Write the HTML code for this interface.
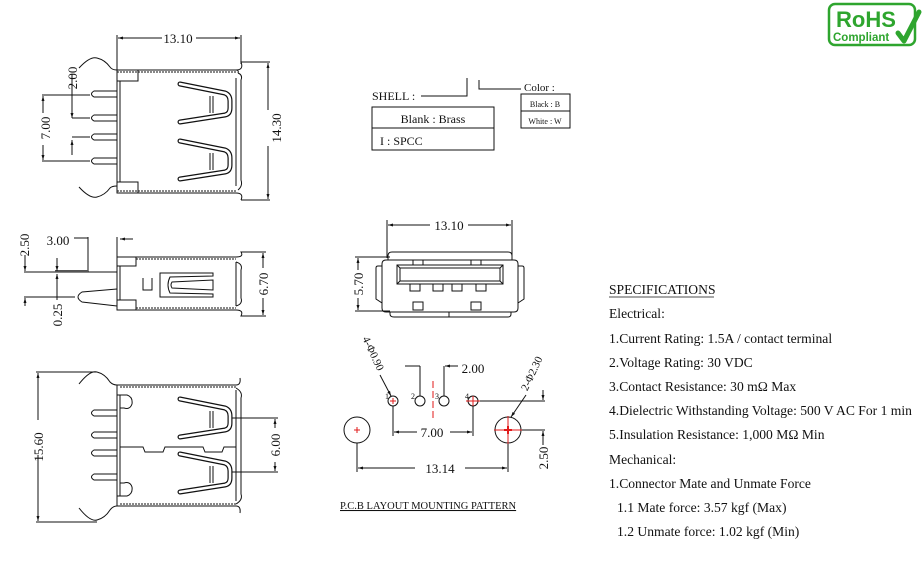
<!DOCTYPE html>
<html><head><meta charset="utf-8"><style>
html,body{margin:0;padding:0;background:#fff;width:923px;height:564px;overflow:hidden}
svg{display:block}
text{font-family:"Liberation Serif",serif;fill:#111}
</style></head><body>
<svg width="923" height="564" viewBox="0 0 923 564" xmlns="http://www.w3.org/2000/svg">
<defs>
<marker id="a" viewBox="0 0 10 10" refX="10" refY="5" markerWidth="7" markerHeight="5" orient="auto-start-reverse"><path d="M0,2 L10,5 L0,8z" fill="#111"/></marker>
<g id="ct">
<path d="M180,84 L225,93 Q230,95 230,101 L230,108 Q230,114 225,115 L180,122" fill="none" stroke="#111" stroke-width="5" stroke-linecap="round" stroke-linejoin="round"/>
<path d="M180,84 L225,93 Q230,95 230,101 L230,108 Q230,114 225,115 L180,122" fill="none" stroke="#fff" stroke-width="2.6" stroke-linecap="round" stroke-linejoin="round"/>
<line x1="210" y1="96" x2="210" y2="113" stroke="#111" stroke-width="1"/><line x1="213" y1="96" x2="213" y2="113" stroke="#111" stroke-width="1"/>
</g>
</defs>
<g stroke="#111" stroke-width="1" fill="none">
<line x1="117" y1="35" x2="117" y2="70"/><line x1="241" y1="35" x2="241" y2="64"/>
<line x1="118" y1="38" x2="162" y2="38" marker-start="url(#a)"/><line x1="196" y1="38" x2="240" y2="38" marker-end="url(#a)"/>
<path d="M79,68 Q90,56 97,58 Q105,60 110,67 Q112,70 117,70 L236,70 Q239,70 238,73"/>
<path d="M79,187 Q90,199 97,197 Q105,195 110,188 Q112,186 117,186"/>
<line x1="117" y1="72" x2="236" y2="72" stroke-dasharray="2,1"/>
<line x1="117" y1="193" x2="236" y2="193"/><line x1="117" y1="191" x2="236" y2="191" stroke-dasharray="2,1"/>
<path d="M236,70 Q244,70 241,62 L270,62"/><line x1="241" y1="200" x2="270" y2="200"/>
<path d="M236,193 Q244,193 241,200"/>
<path d="M238,73 Q243,75 241,80 L241,180 Q243,186 238,190"/>
<line x1="236" y1="78" x2="236" y2="186"/>
<rect x="117" y="70" width="21" height="11"/><rect x="117" y="182" width="21" height="11"/>
<line x1="117" y1="70" x2="117" y2="193"/><line x1="120" y1="81" x2="120" y2="182"/>
<path d="M117,91 L94,91 Q89,94 94,97 L117,97"/>
<path d="M117,115 L94,115 Q89,118 94,121 L117,121"/>
<path d="M117,134 L94,134 Q89,137 94,140 L117,140"/>
<path d="M117,158 L94,158 Q89,161 94,164 L117,164"/>
<line x1="268" y1="63" x2="268" y2="110" marker-start="url(#a)"/><line x1="268" y1="146" x2="268" y2="199" marker-end="url(#a)"/>
<line x1="42" y1="95" x2="90" y2="95"/><line x1="42" y1="161" x2="90" y2="161"/>
<line x1="43" y1="96" x2="43" y2="113" marker-start="url(#a)"/><line x1="43" y1="145" x2="43" y2="160" marker-end="url(#a)"/>
<line x1="72" y1="95" x2="72" y2="118" marker-end="url(#a)"/><line x1="72" y1="140" x2="72" y2="155" marker-start="url(#a)"/>
<line x1="72" y1="118" x2="90" y2="118"/><line x1="72" y1="137" x2="90" y2="137"/>
<line x1="72" y1="74" x2="72" y2="95"/>
</g>
<use href="#ct"/><use href="#ct" y="57"/>
<text x="178" y="43" font-size="13" text-anchor="middle">13.10</text>
<text transform="translate(281,128) rotate(-90)" font-size="13" text-anchor="middle">14.30</text>
<text transform="translate(50,128) rotate(-90)" font-size="13" text-anchor="middle">7.00</text>
<text transform="translate(77,78) rotate(-90)" font-size="13" text-anchor="middle">2.00</text>

<g stroke="#111" stroke-width="1" fill="none">
<line x1="88" y1="237" x2="88" y2="272"/><line x1="74" y1="238" x2="88" y2="238"/>
<line x1="117" y1="237" x2="117" y2="257"/><line x1="120" y1="239" x2="133" y2="239" marker-start="url(#a)"/>
<line x1="24" y1="272" x2="117" y2="272"/><rect x="55" y="270" width="33" height="2" fill="#555" stroke="none"/>
<line x1="24" y1="297" x2="75" y2="297"/>
<line x1="25" y1="255" x2="25" y2="271" marker-end="url(#a)"/>
<line x1="25" y1="298" x2="25" y2="306" marker-start="url(#a)"/>
<line x1="57" y1="258" x2="57" y2="271" marker-end="url(#a)"/><line x1="57" y1="274" x2="57" y2="300" marker-start="url(#a)"/>
<path d="M117,289 L82,292 Q74,297 82,302 L117,306"/>
<rect x="117" y="257" width="19" height="9"/><rect x="117" y="300" width="19" height="10"/>
<line x1="117" y1="257" x2="117" y2="310"/><line x1="120" y1="266" x2="120" y2="300"/>
<line x1="136" y1="257" x2="236" y2="257"/><line x1="136" y1="259" x2="236" y2="259" stroke-dasharray="2,1"/>
<line x1="136" y1="310" x2="236" y2="310"/><line x1="136" y1="308" x2="236" y2="308" stroke-dasharray="2,1"/>
<path d="M236,257 Q244,257 241,252 L266,252"/><path d="M236,310 Q244,310 241,316 L266,316"/>
<path d="M236,262 Q243,264 241,270 L241,298 Q243,304 236,306"/><line x1="236" y1="262" x2="236" y2="306"/>
<line x1="263" y1="253" x2="263" y2="268" marker-start="url(#a)"/><line x1="263" y1="298" x2="263" y2="315" marker-end="url(#a)"/>
<path d="M143,278 L143,290 L152,290 L152,278"/>
<path d="M160,273 L213,273 L213,276 L170,277 Q166,285 170,293 L213,294 L213,297 L160,297 Z"/>
<path d="M172,282 Q170,285 172,288 L213,290 L213,280 Z"/>
</g>
<text x="58" y="245" font-size="13" text-anchor="middle">3.00</text>
<text transform="translate(29,245) rotate(-90)" font-size="13" text-anchor="middle">2.50</text>
<text transform="translate(62,315) rotate(-90)" font-size="13" text-anchor="middle">0.25</text>
<text transform="translate(268,284) rotate(-90)" font-size="13" text-anchor="middle">6.70</text>

<g stroke="#111" stroke-width="1" fill="none">
<line x1="36" y1="372" x2="97" y2="372"/><line x1="36" y1="522" x2="97" y2="522"/>
<line x1="38" y1="373" x2="38" y2="420" marker-start="url(#a)"/><line x1="38" y1="455" x2="38" y2="521" marker-end="url(#a)"/>
<path d="M79,384 Q90,370 97,372 Q105,374 110,382 Q113,385 117,385 L236,385 Q241,385 240,378"/>
<path d="M79,508 Q90,522 97,520 Q105,518 110,510 Q113,506 117,506 L236,506 Q241,506 240,513"/>
<line x1="120" y1="387" x2="236" y2="387" stroke-dasharray="2,1"/><line x1="120" y1="504" x2="236" y2="504" stroke-dasharray="2,1"/>
<line x1="117" y1="385" x2="117" y2="506"/><line x1="120" y1="395" x2="120" y2="496"/>
<path d="M117,395 L127,395 Q133,397 132,404 Q130,410 124,408 L120,408"/>
<path d="M117,496 L127,496 Q133,494 132,487 Q130,481 124,483 L120,483"/>
<path d="M236,388 Q243,392 241,398 L241,494 Q243,500 236,504"/><line x1="236" y1="390" x2="236" y2="501"/>
<path d="M117,410 L94,410 Q89,413 94,416 L117,416"/>
<path d="M117,432 L94,432 Q89,435 94,438 L117,438"/>
<path d="M117,450 L94,450 Q89,453 94,456 L117,456"/>
<path d="M117,474 L94,474 Q89,477 94,480 L117,480"/>
<path d="M120,447 L143,447 L145,452 L163,452 L165,447 L203,447 L205,452 L222,452 L224,447 L236,447"/>
<line x1="228" y1="418" x2="278" y2="418"/><line x1="228" y1="472" x2="278" y2="472"/>
<line x1="275" y1="419" x2="275" y2="428" marker-start="url(#a)"/><line x1="275" y1="462" x2="275" y2="471" marker-end="url(#a)"/>
</g>
<use href="#ct" y="315"/><use href="#ct" y="370"/>
<text transform="translate(43,447) rotate(-90)" font-size="13" text-anchor="middle">15.60</text>
<text transform="translate(280,445) rotate(-90)" font-size="13" text-anchor="middle">6.00</text>

<g stroke="#111" stroke-width="1" fill="none">
<path d="M421,96 L467,96 L467,78"/><path d="M479,80 L479,89 L521,89"/>
<rect x="372" y="107" width="122" height="43"/><line x1="372" y1="128" x2="494" y2="128"/>
<rect x="521" y="94" width="49" height="34"/><line x1="521" y1="111" x2="570" y2="111"/>
</g>
<text x="372" y="100" font-size="12">SHELL :</text>
<text x="524" y="91" font-size="11">Color :</text>
<text x="433" y="123" font-size="12" text-anchor="middle">Blank : Brass</text>
<text x="380" y="145" font-size="12">I : SPCC</text>
<text x="545" y="107" font-size="8" text-anchor="middle">Black : B</text>
<text x="545" y="124" font-size="8" text-anchor="middle">White : W</text>

<g stroke="#111" stroke-width="1" fill="none">
<line x1="387" y1="220" x2="387" y2="258"/><line x1="512" y1="220" x2="512" y2="258"/>
<line x1="388" y1="225" x2="430" y2="225" marker-start="url(#a)"/><line x1="468" y1="225" x2="511" y2="225" marker-end="url(#a)"/>
<line x1="355" y1="257" x2="390" y2="257"/><line x1="355" y1="311" x2="390" y2="311"/>
<line x1="358" y1="258" x2="358" y2="270" marker-start="url(#a)"/><line x1="358" y1="298" x2="358" y2="310" marker-end="url(#a)"/>
<path d="M392,252 L508,252 Q512,252 512,256 L512,260 L509,260"/>
<path d="M392,252 Q388,252 388,256 L388,260 L391,260"/>
<path d="M386,260 L514,260 Q518,260 518,264 L518,308 Q518,312 514,312 L386,312 Q382,312 382,308 L382,264 Q382,260 386,260Z"/>
<path d="M382,266 L378,266 Q376,266 376,268 L376,299 L382,303"/>
<path d="M518,266 L522,266 Q524,266 524,268 L524,299 L518,303"/>
<path d="M390,312 L390,314 Q390,317 394,317 L508,317 Q511,317 511,314 L511,312"/>
<line x1="449" y1="312" x2="449" y2="317"/>
<rect x="397" y="265" width="106" height="19"/>
<path d="M400,268 L500,268 L500,281 L400,281Z"/>
<line x1="397" y1="265" x2="400" y2="268"/><line x1="503" y1="265" x2="500" y2="268"/>
<line x1="397" y1="284" x2="400" y2="281"/><line x1="503" y1="284" x2="500" y2="281"/>
<rect x="413" y="260" width="10" height="5"/><rect x="471" y="260" width="10" height="5"/>
<rect x="410" y="284" width="10" height="7"/><rect x="433" y="284" width="10" height="7"/>
<rect x="452" y="284" width="10" height="7"/><rect x="476" y="284" width="10" height="7"/>
<rect x="413" y="302" width="10" height="8"/><rect x="471" y="302" width="10" height="8"/>
</g>
<text x="449" y="230" font-size="13" text-anchor="middle">13.10</text>
<text transform="translate(363,284) rotate(-90)" font-size="13" text-anchor="middle">5.70</text>

<g stroke="#111" stroke-width="1" fill="none">
<circle cx="393" cy="401" r="5"/><circle cx="420" cy="401" r="5"/><circle cx="444" cy="401" r="5"/><circle cx="473" cy="401" r="5"/>
<circle cx="357" cy="430" r="13"/><circle cx="508" cy="430" r="13"/>
<line x1="393" y1="406" x2="393" y2="436"/><line x1="473" y1="406" x2="473" y2="436"/>
<line x1="394" y1="432" x2="417" y2="432" marker-start="url(#a)"/><line x1="450" y1="432" x2="472" y2="432" marker-end="url(#a)"/>
<line x1="357" y1="443" x2="357" y2="472"/><line x1="508" y1="443" x2="508" y2="472"/>
<line x1="358" y1="468" x2="415" y2="468" marker-start="url(#a)"/><line x1="465" y1="468" x2="507" y2="468" marker-end="url(#a)"/>
<line x1="405" y1="366" x2="420" y2="366"/><line x1="420" y1="366" x2="420" y2="396"/>
<line x1="444" y1="366" x2="444" y2="396"/><line x1="445" y1="366" x2="458" y2="366" marker-start="url(#a)"/>
<line x1="478" y1="401" x2="545" y2="401"/><line x1="521" y1="430" x2="545" y2="430"/>
<line x1="543" y1="390" x2="543" y2="400" marker-end="url(#a)"/><line x1="543" y1="431" x2="543" y2="445" marker-start="url(#a)"/>
<line x1="380" y1="375" x2="391" y2="396" marker-end="url(#a)"/>
<line x1="526" y1="395" x2="511" y2="417" marker-end="url(#a)"/>
</g>
<g stroke="#e01a1a" stroke-width="1">
<line x1="433" y1="381" x2="433" y2="418" stroke-dasharray="7,3"/>
<line x1="390" y1="401" x2="396" y2="401"/><line x1="393" y1="398" x2="393" y2="404"/>
<line x1="466" y1="401" x2="480" y2="401"/><line x1="473" y1="396" x2="473" y2="406"/>
<line x1="354" y1="430" x2="360" y2="430"/><line x1="357" y1="427" x2="357" y2="433"/>
<line x1="494" y1="430" x2="522" y2="430"/><line x1="508" y1="416" x2="508" y2="444"/>
<line x1="504" y1="430" x2="512" y2="430" stroke-width="2"/><line x1="508" y1="426" x2="508" y2="434" stroke-width="2"/>
</g>
<text x="385" y="399" font-size="8">1</text><text x="411" y="399" font-size="8">2</text><text x="435" y="399" font-size="8">3</text><text x="465" y="399" font-size="8">4</text>
<text x="473" y="373" font-size="13" text-anchor="middle">2.00</text>
<text x="432" y="437" font-size="13" text-anchor="middle">7.00</text>
<text x="440" y="473" font-size="13" text-anchor="middle">13.14</text>
<text transform="translate(548,458) rotate(-90)" font-size="13" text-anchor="middle">2.50</text>
<text transform="translate(370,355) rotate(65)" font-size="11" text-anchor="middle">4-Φ0.90</text>
<text transform="translate(535,375) rotate(-65)" font-size="11" text-anchor="middle">2-Φ2.30</text>
<text x="340" y="509" font-size="10.5" text-decoration="underline">P.C.B LAYOUT MOUNTING PATTERN</text>

<g font-size="13.6">
<text x="609" y="294">SPECIFICATIONS</text>
<text x="609" y="318">Electrical:</text>
<text x="609" y="343">1.Current Rating: 1.5A / contact terminal</text>
<text x="609" y="367">2.Voltage Rating: 30 VDC</text>
<text x="609" y="391">3.Contact Resistance: 30 mΩ Max</text>
<text x="609" y="415">4.Dielectric Withstanding Voltage: 500 V AC For 1 min</text>
<text x="609" y="439">5.Insulation Resistance: 1,000 MΩ Min</text>
<text x="609" y="464">Mechanical:</text>
<text x="609" y="488">1.Connector Mate and Unmate Force</text>
<text x="617" y="512">1.1 Mate force: 3.57 kgf (Max)</text>
<text x="617" y="536">1.2 Unmate force: 1.02 kgf (Min)</text>
</g>
<line x1="609" y1="297" x2="714" y2="297" stroke="#111" stroke-width="0.8"/>

<rect x="829" y="4" width="86" height="41" rx="6" fill="#fff" stroke="#2ea52e" stroke-width="2.5"/>
<text x="836" y="27" font-size="22" style="font-family:'Liberation Sans',sans-serif;font-weight:bold;fill:#2ea52e">RoHS</text>
<text x="833" y="41" font-size="11.5" style="font-family:'Liberation Sans',sans-serif;font-weight:bold;fill:#2ea52e">Compliant</text>
<path d="M898,33 L904,41 L919,12" fill="none" stroke="#2ea52e" stroke-width="5" stroke-linecap="round" stroke-linejoin="round"/>
</svg>
</body></html>
